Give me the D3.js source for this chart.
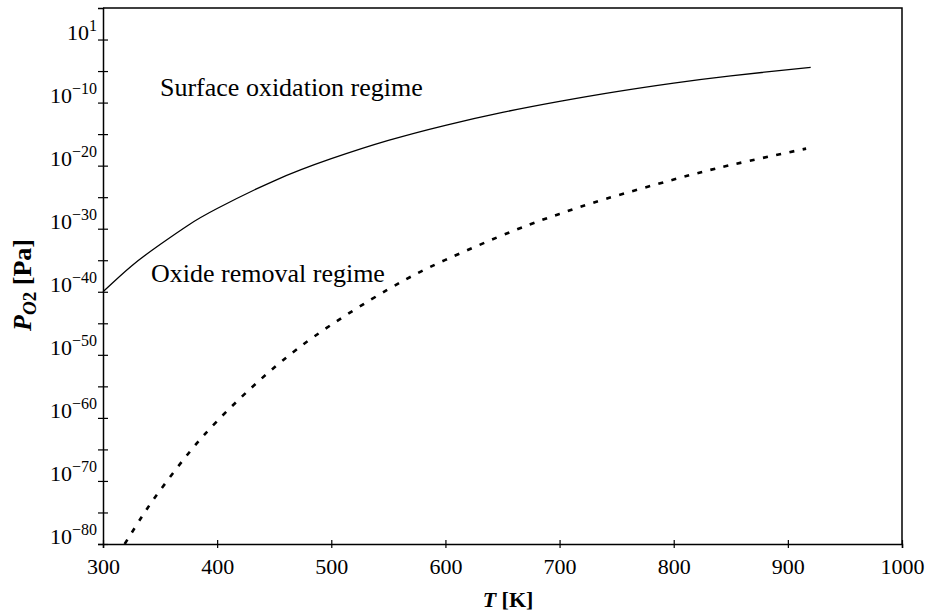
<!DOCTYPE html>
<html>
<head>
<meta charset="utf-8">
<script src="https://cdn.jsdelivr.net/npm/d3@7"></script>
<style>
  body { margin: 0; background: #fff; }
  svg { display: block; font-family: "Liberation Serif", "DejaVu Serif", serif; }
</style>
</head>
<body>
<svg id="chart" width="926" height="614"></svg>
<script>
// data (log10 of P_O2 in Pa)
const temps_solid = [300, 325, 350, 375, 400, 450, 500, 550, 600, 650, 700, 750, 800, 850, 920];
const logp_solid = [-40, -35.9, -32.5, -29.4, -26.8, -22.4, -18.9, -16.0, -13.6, -11.55, -9.8, -8.25, -6.9, -5.75, -4.4];

const temps_dashed = [319, 335, 350, 375, 400, 435, 485, 550, 600, 660, 700, 740, 800, 850, 916];
const logp_dashed = [-80, -75.4, -71.5, -65.6, -60.5, -54.4, -47.1, -39.6, -34.95, -30.3, -27.65, -25.3, -22.2, -19.9, -17.3];

const x_ticks = [300, 400, 500, 600, 700, 800, 900, 1000];
const y_ticks = [-80, -75, -70, -65, -60, -55, -50, -45, -40, -35, -30, -25, -20, -15, -10, -5, 0];
const y_label_pos = [-80, -70, -60, -50, -40, -30, -20, -10, 0];
const y_label_exp = ["\u221280", "\u221270", "\u221260", "\u221250", "\u221240", "\u221230", "\u221220", "\u221210", "1"];

const svg = d3.select("#chart");
const plotLeft = 103, plotRight = 902, plotTop = 8, plotBottom = 544;

const x = d3.scaleLinear().domain([300, 1000]).range([plotLeft, plotRight]);
const y = d3.scaleLog().domain([1e-80, 1e5]).range([plotBottom, plotTop]);

// frame (top + right)
svg.append("path")
  .attr("d", `M${plotLeft},${plotTop}H${plotRight}V${plotBottom}`)
  .attr("fill", "none")
  .attr("stroke", "#000")
  .attr("stroke-width", 1.5);

// x axis
const gx = svg.append("g")
  .attr("transform", `translate(0,${plotBottom})`)
  .call(d3.axisBottom(x).tickValues(x_ticks).tickFormat(d3.format("d")).tickSize(4).tickPadding(10));
gx.select(".domain").attr("stroke-width", 1.5);
gx.selectAll(".tick line").attr("y1", -4).attr("y2", 4).attr("stroke-width", 1.2);
gx.selectAll(".tick text")
  .attr("font-family", "Liberation Serif")
  .attr("font-size", 22)
  .attr("fill", "#000");

// y axis
const gy = svg.append("g")
  .attr("transform", `translate(${plotLeft},0)`)
  .call(d3.axisLeft(y).tickValues(y_ticks.map((e) => Math.pow(10, e))).tickFormat("").tickSize(5));
gy.select(".domain").attr("stroke-width", 1.5);
gy.selectAll(".tick line").attr("x1", -5).attr("x2", 5).attr("stroke-width", 1.2);

// y tick labels: 10 with superscript
const ylab = svg.append("g")
  .selectAll("text")
  .data(y_label_pos)
  .enter()
  .append("text")
  .attr("x", plotLeft - 6)
  .attr("y", (d) => y(Math.pow(10, d)))
  .attr("text-anchor", "end")
  .attr("font-size", 22);
ylab.append("tspan").text("10");
ylab.append("tspan")
  .attr("dy", -9)
  .attr("font-size", 16)
  .text((d, i) => y_label_exp[i]);

// curves
const line = d3.line()
  .x((d) => x(d[0]))
  .y((d) => y(Math.pow(10, d[1])))
  .curve(d3.curveNatural);

svg.append("path")
  .datum(d3.zip(temps_solid, logp_solid))
  .attr("d", line)
  .attr("fill", "none")
  .attr("stroke", "#000")
  .attr("stroke-width", 1.3);

svg.append("path")
  .datum(d3.zip(temps_dashed, logp_dashed))
  .attr("d", line)
  .attr("fill", "none")
  .attr("stroke", "#000")
  .attr("stroke-width", 2.6)
  .attr("stroke-dasharray", "5,8.5");

// region labels
svg.append("text")
  .attr("x", 160)
  .attr("y", 96)
  .attr("font-size", 26)
  .text("Surface oxidation regime");

svg.append("text")
  .attr("x", 151)
  .attr("y", 282)
  .attr("font-size", 26)
  .text("Oxide removal regime");

// axis titles
const xt = svg.append("text")
  .attr("x", 508)
  .attr("y", 607)
  .attr("text-anchor", "middle")
  .attr("font-size", 22)
  .attr("font-weight", "bold");
xt.append("tspan").attr("font-style", "italic").text("T");
xt.append("tspan").text(" [K]");

const yt = svg.append("text")
  .attr("transform", "translate(31,285) rotate(-90)")
  .attr("text-anchor", "middle")
  .attr("font-size", 26)
  .attr("font-weight", "bold");
yt.append("tspan").attr("font-style", "italic").text("P");
yt.append("tspan").attr("font-style", "italic").attr("font-size", 19).attr("dy", 5).text("O");
yt.append("tspan").attr("font-size", 19).text("2");
yt.append("tspan").attr("dy", -5).text(" [Pa]");
</script>
</body>
</html>
